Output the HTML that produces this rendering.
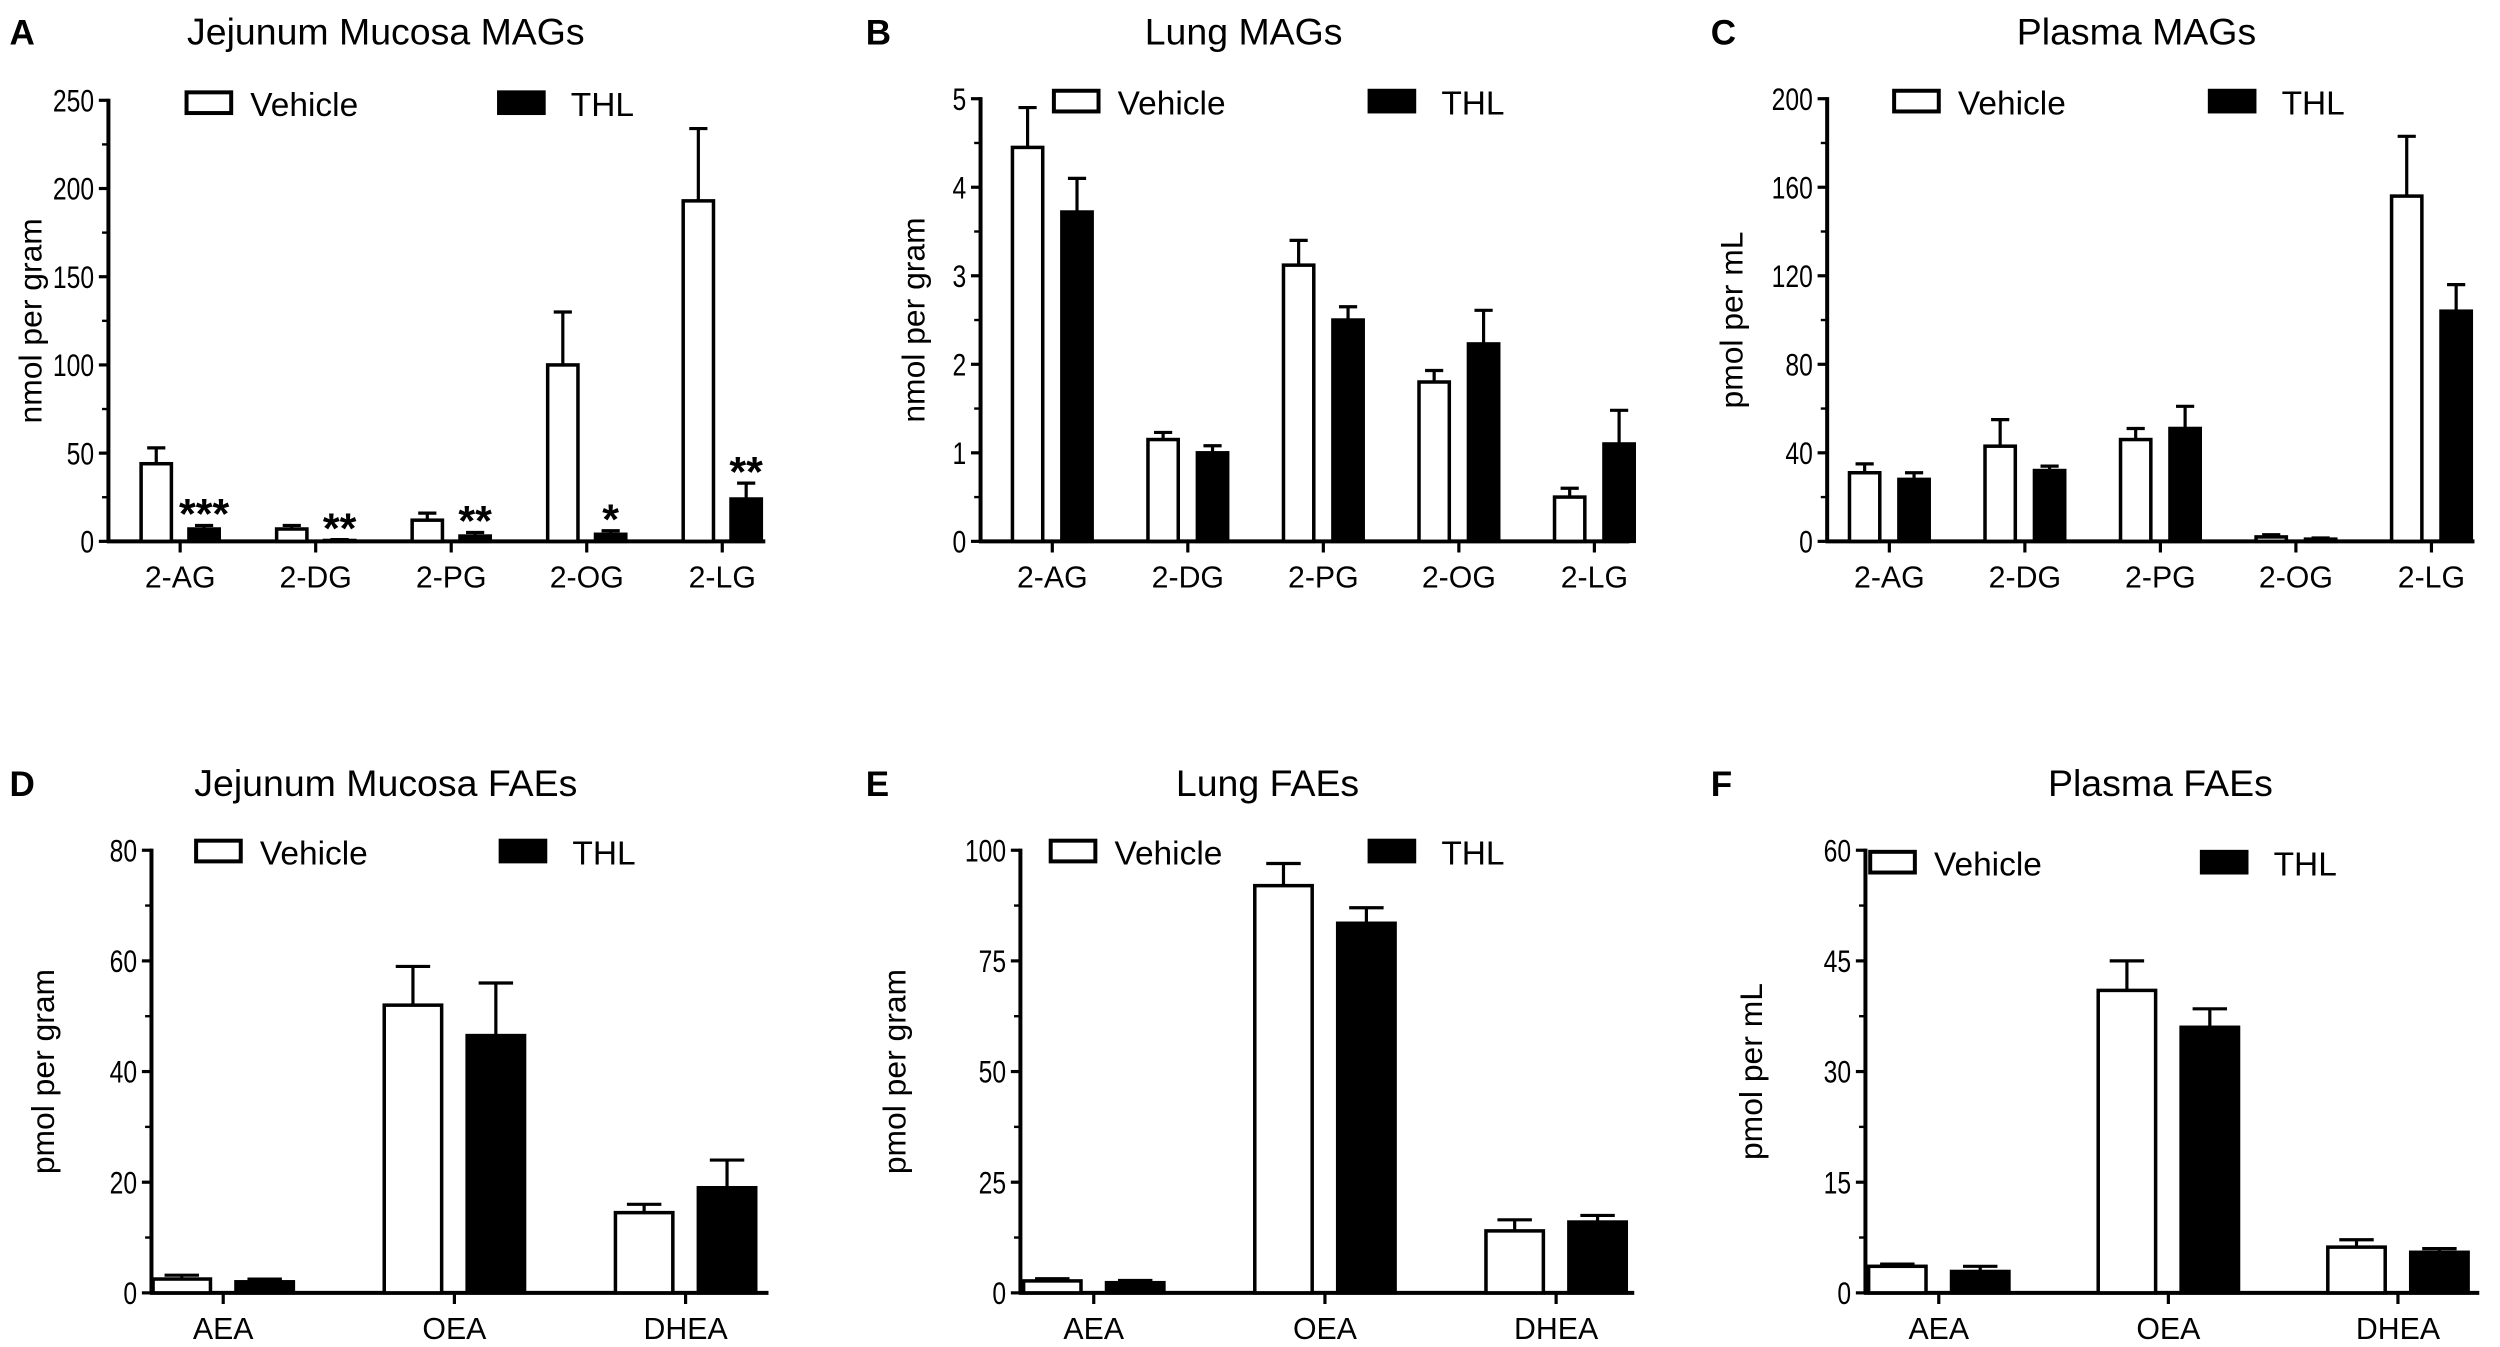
<!DOCTYPE html>
<html><head><meta charset="utf-8"><style>
html,body{margin:0;padding:0;background:#fff;}
svg{display:block;font-family:"Liberation Sans",Arial,sans-serif;}
</style></head><body>
<svg id="fig" width="2500" height="1347" viewBox="0 0 1568 846" preserveAspectRatio="none" xmlns="http://www.w3.org/2000/svg"></svg>
<script>
// ---- data ----
const magCats = ["2-AG","2-DG","2-PG","2-OG","2-LG"];
const faeCats = ["AEA","OEA","DHEA"];
const aVeh = [44,7,12,100,193], aVehErr = [9,2,4,30,41];
const aThl = [7,0.5,3,4,24], aThlErr = [2,0.5,2,2,9];
const aStars = ["***","**","**","*","**"];
const bVeh = [4.45,1.15,3.12,1.8,0.5], bVehErr = [0.45,0.08,0.28,0.13,0.1];
const bThl = [3.72,1.0,2.5,2.23,1.1], bThlErr = [0.38,0.08,0.15,0.38,0.38];
const cVeh = [31,43,46,2,156], cVehErr = [4,12,5,1,27];
const cThl = [28,32,51,1,104], cThlErr = [3,2,10,0.5,12];
const dVeh = [2.5,52,14.5], dVehErr = [0.7,7,1.5];
const dThl = [2,46.5,19], dThlErr = [0.5,9.5,5];
const eVeh = [2.7,92,14], eVehErr = [0.5,5,2.5];
const eThl = [2.3,83.5,16], eThlErr = [0.5,3.5,1.5];
const fVeh = [3.6,41,6.2], fVehErr = [0.3,4,1];
const fThl = [2.9,36,5.5], fThlErr = [0.7,2.5,0.5];
const aTicks=[0,50,100,150,200,250], bTicks=[0,1,2,3,4,5], cTicks=[0,40,80,120,160,200];
const dTicks=[0,20,40,60,80], eTicks=[0,25,50,75,100], fTicks=[0,15,30,45,60];

const NS="http://www.w3.org/2000/svg";
const svg=document.getElementById('fig');
function mk(tag,attrs,parent,text){const e=document.createElementNS(NS,tag);for(const k in attrs)e.setAttribute(k,attrs[k]);if(text!==undefined)e.textContent=text;(parent||svg).appendChild(e);return e;}

function panel(p){
  const g=mk('g',{});
  
  
  const ymax=p.ticks[p.ticks.length-1];
  const Y=v=>p.y0-(v/ymax)*(p.y0-p.ytop);
  const X=i=>p.c0+i*p.sp;
  const l=mk('text',{x:p.lx,y:p.ty,'font-size':22,'font-weight':'bold'},g,p.id);
  
  const t=mk('text',{x:p.tx,y:p.ty,'font-size':23.5,'text-anchor':'middle'},g,p.title);
  
  const yt=mk('text',{x:0,y:0,'font-size':20,'text-anchor':'middle',transform:`translate(${p.yx},${(p.y0+p.ytop)/2}) rotate(-90)`},g,p.ylabel);
  
  mk('line',{x1:p.ax,y1:p.ytop-1,x2:p.ax,y2:p.y0+1,stroke:'#000','stroke-width':2.5},g);
  mk('line',{x1:p.ax-1,y1:p.y0,x2:p.xend,y2:p.y0,stroke:'#000','stroke-width':2.5},g);
  const step=p.ticks[1]-p.ticks[0];
  p.ticks.forEach((v,i)=>{
    mk('line',{x1:p.ax-6,y1:Y(v),x2:p.ax,y2:Y(v),stroke:'#000','stroke-width':2},g);
    const s=String(v);
    const tl=mk('text',{x:p.ax-9,y:Y(v)+7,'font-size':19.5,'text-anchor':'end',textLength:s.length*8.6,lengthAdjust:'spacingAndGlyphs'},g,s);
    
    if(i<p.ticks.length-1) mk('line',{x1:p.ax-4,y1:Y(v+step/2),x2:p.ax,y2:Y(v+step/2),stroke:'#000','stroke-width':1.5},g);
  });
  p.cats.forEach((c,i)=>{
    mk('line',{x1:X(i),y1:p.y0,x2:X(i),y2:p.y0+7,stroke:'#000','stroke-width':2},g);
    const xl=mk('text',{x:X(i),y:p.y0+29,'font-size':19,'text-anchor':'middle'},g,c);
    
  });
  function bars(vals,errs,off,fill,name){
    vals.forEach((v,i)=>{
      const cx=X(i)+off, top=Y(v), et=Y(v+errs[i]);
      mk('line',{x1:cx,y1:top,x2:cx,y2:et,stroke:'#000','stroke-width':2},g);
      mk('line',{x1:cx-p.bw*0.3,y1:et,x2:cx+p.bw*0.3,y2:et,stroke:'#000','stroke-width':2},g);
      const r=mk('rect',{x:cx-p.bw/2,y:top,width:p.bw,height:Math.max(p.y0-top,0.5),fill:fill,stroke:'#000','stroke-width':2.2},g);
      
      
    });
  }
  bars(p.veh,p.vehErr,-p.off,'#fff','vehicle');
  bars(p.thl,p.thlErr,p.off,'#000','thl');
  if(p.stars){p.stars.forEach((s,i)=>{
    const st=mk('text',{x:X(i)+p.off,y:Y(p.thl[i]+p.thlErr[i])+2,'font-size':27,'font-weight':'bold','text-anchor':'middle'},g,s);
    
  });}
  const lg=mk('g',{},g);
  
  mk('rect',{x:p.lgx1,y:p.lgy-7,width:28,height:13,fill:'#fff',stroke:'#000','stroke-width':2.5},lg);
  mk('text',{x:p.lgx1+40,y:p.lgy+8,'font-size':21},lg,'Vehicle');
  mk('rect',{x:p.lgx2,y:p.lgy-7,width:28,height:13,fill:'#000',stroke:'#000','stroke-width':2.5},lg);
  mk('text',{x:p.lgx2+45,y:p.lgy+8,'font-size':21},lg,'THL');
}
panel({id:'A',title:'Jejunum Mucosa MAGs',lx:6,tx:242,ty:28,ylabel:'nmol per gram',yx:26,ax:68,ytop:63,y0:340,xend:480,c0:113,sp:85,bw:19,off:15,cats:magCats,ticks:aTicks,veh:aVeh,vehErr:aVehErr,thl:aThl,thlErr:aThlErr,stars:aStars,lgx1:117,lgx2:313,lgy:65});
panel({id:'B',title:'Lung MAGs',lx:543,tx:780,ty:28,ylabel:'nmol per gram',yx:580,ax:615,ytop:62,y0:340,xend:1022,c0:660,sp:85,bw:19,off:15.5,cats:magCats,ticks:bTicks,veh:bVeh,vehErr:bVehErr,thl:bThl,thlErr:bThlErr,lgx1:661,lgx2:859,lgy:64});
panel({id:'C',title:'Plasma MAGs',lx:1073,tx:1340,ty:28,ylabel:'pmol per mL',yx:1093,ax:1146,ytop:62,y0:340,xend:1552,c0:1185,sp:85,bw:19,off:15.5,cats:magCats,ticks:cTicks,veh:cVeh,vehErr:cVehErr,thl:cThl,thlErr:cThlErr,lgx1:1188,lgx2:1386,lgy:64});
panel({id:'D',title:'Jejunum Mucosa FAEs',lx:6,tx:242,ty:500,ylabel:'pmol per gram',yx:34,ax:95,ytop:534,y0:812,xend:482,c0:140,sp:145,bw:36,off:26,cats:faeCats,ticks:dTicks,veh:dVeh,vehErr:dVehErr,thl:dThl,thlErr:dThlErr,lgx1:123,lgx2:314,lgy:535});
panel({id:'E',title:'Lung FAEs',lx:543,tx:795,ty:500,ylabel:'pmol per gram',yx:568,ax:640,ytop:534,y0:812,xend:1025,c0:686,sp:145,bw:36,off:26,cats:faeCats,ticks:eTicks,veh:eVeh,vehErr:eVehErr,thl:eThl,thlErr:eThlErr,lgx1:659,lgx2:859,lgy:535});
panel({id:'F',title:'Plasma FAEs',lx:1073,tx:1355,ty:500,ylabel:'pmol per mL',yx:1105,ax:1170,ytop:534,y0:812,xend:1555,c0:1216,sp:144,bw:36,off:26,cats:faeCats,ticks:fTicks,veh:fVeh,vehErr:fVehErr,thl:fThl,thlErr:fThlErr,lgx1:1173,lgx2:1381,lgy:542});
</script>
</body></html>
